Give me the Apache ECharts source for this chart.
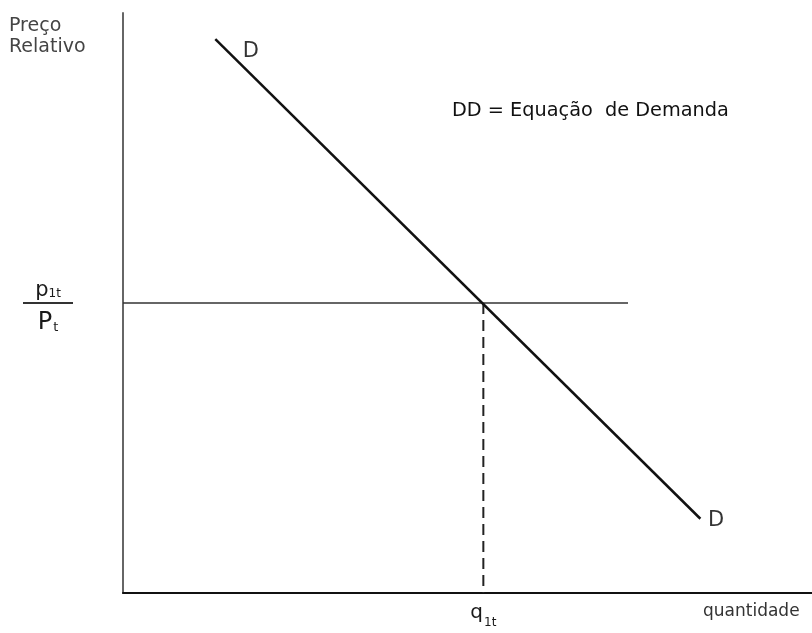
<!DOCTYPE html>
<html>
<head>
<meta charset="utf-8">
<script src="https://cdn.jsdelivr.net/npm/echarts@6/dist/echarts.min.js"></script>
<style>html,body{margin:0;padding:0;background:#fff}#c{width:812px;height:633px}</style>
</head>
<body>
<div id="c"></div>
<script>
// Demand line DD endpoints (quantity, relative price)
const demandQ = [13.4, 83.8];
const demandP = [95.5, 12.8];
// Equilibrium point (q1t, p1t/Pt)
const eqQ = 52.3;
const eqP = 50.0;
// Horizontal price line extends to this quantity
const priceLineEndQ = 73.3;
// Texts
const yAxisTitle = 'Preço\nRelativo';
const xAxisTitle = 'quantidade';
const annotation = 'DD = Equação  de Demanda';
const curveLabel = 'D';

const FONT = 'DejaVu Sans';
const chart = echarts.init(document.getElementById('c'), null, {renderer: 'canvas'});

const demandData = demandQ.map((q, i) => [q, demandP[i]]);

chart.setOption({
  animation: false,
  backgroundColor: '#ffffff',
  grid: {left: 123, right: 0, top: 13, bottom: 40, containLabel: false},
  xAxis: {
    type: 'value', min: 0, max: 100,
    splitLine: {show: false},
    axisTick: {show: false},
    axisLine: {lineStyle: {color: '#111', width: 2}},
    axisLabel: {
      customValues: [eqQ],
      margin: 10,
      formatter: () => '{q|q}{s|1t}',
      rich: {
        q: {fontFamily: FONT, fontSize: 20, color: '#1a1a1a', verticalAlign: 'top', lineHeight: 26},
        s: {fontFamily: FONT, fontSize: 12, color: '#1a1a1a', verticalAlign: 'bottom', lineHeight: 26, padding: [0, 0, 0, 1]}
      }
    }
  },
  yAxis: {
    type: 'value', min: 0, max: 100,
    splitLine: {show: false},
    axisTick: {show: false},
    axisLine: {lineStyle: {color: '#666', width: 2}},
    axisLabel: {
      customValues: [eqP],
      align: 'center',
      margin: 75,
      formatter: () => '{p|p}{ps|1t}\n{bar| }\n{P|P}{Ps|t}',
      rich: {
        p: {fontFamily: FONT, fontSize: 21, color: '#1a1a1a', align: 'center', lineHeight: 30, verticalAlign: 'bottom'},
        ps: {fontFamily: FONT, fontSize: 12, color: '#1a1a1a', align: 'center', lineHeight: 30, verticalAlign: 'bottom', padding: [0, 0, 2, 0]},
        bar: {width: 50, height: 2, lineHeight: 3, backgroundColor: '#333', align: 'center', fontSize: 1},
        P: {fontFamily: FONT, fontSize: 24, color: '#1a1a1a', align: 'center', lineHeight: 30, verticalAlign: 'bottom'},
        Ps: {fontFamily: FONT, fontSize: 13, color: '#1a1a1a', align: 'center', lineHeight: 30, verticalAlign: 'bottom', padding: [0, 0, 0, 1]}
      }
    }
  },
  graphic: [
    {type: 'text', left: 9, top: 16, style: {text: yAxisTitle, font: '19px "DejaVu Sans"', fill: '#444', lineHeight: 21}},
    {type: 'text', left: 703, top: 603, style: {text: xAxisTitle, font: '17px "DejaVu Sans"', fill: '#333'}},
    {type: 'text', left: 452, top: 101, style: {text: annotation, font: '19.3px "DejaVu Sans"', fill: '#111'}}
  ],
  series: [
    {
      type: 'line', data: demandData, symbol: 'none',
      lineStyle: {color: '#111', width: 2.5}, z: 3
    },
    {
      type: 'line', data: [[0, eqP], [priceLineEndQ, eqP]], symbol: 'none',
      lineStyle: {color: '#333', width: 1.6}, z: 2
    },
    {
      type: 'line', data: [[eqQ, eqP], [eqQ, 0]], symbol: 'none',
      lineStyle: {color: '#222', width: 2, type: [11, 6]}, z: 2
    },
    {
      type: 'scatter', symbolSize: 1, itemStyle: {color: 'rgba(0,0,0,0)'},
      data: [
        {value: demandData[0], label: {offset: [22, 12]}},
        {value: demandData[1], label: {offset: [2, 2]}}
      ],
      label: {show: true, position: 'right', formatter: () => curveLabel,
              fontFamily: FONT, fontSize: 21, color: '#000'},
      z: 4
    }
  ]
});
</script>
</body>
</html>
